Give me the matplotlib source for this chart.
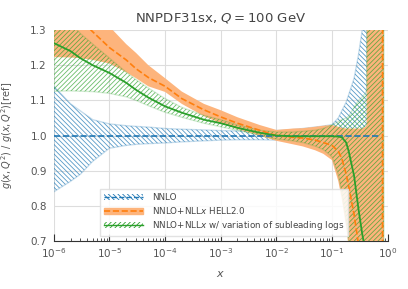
import numpy as np
import matplotlib
matplotlib.use("Agg")
import matplotlib.pyplot as plt
from matplotlib.patches import Patch
from matplotlib.lines import Line2D
from matplotlib.ticker import LogLocator, NullFormatter

# x grid (log)
x = [1e-6, 2e-6, 3e-6, 5e-6, 1e-5, 2e-5, 3e-5, 5e-5, 1e-4, 2e-4, 5e-4,
     1e-3, 2e-3, 5e-3, 1e-2, 2e-2, 3e-2, 5e-2, 0.07, 0.1, 0.13, 0.15,
     0.18, 0.2, 0.25, 0.3, 0.35, 0.4, 0.42, 0.43, 0.5, 0.6, 0.7, 0.805,
     0.815, 0.86]

# NNLO
nnlo_cv = [1.0] * len(x)
nnlo_up = [1.14, 1.09, 1.07, 1.045, 1.033, 1.028, 1.026, 1.024, 1.02, 1.018, 1.016,
           1.014, 1.013, 1.013, 1.014, 1.017, 1.02, 1.024, 1.027, 1.031, 1.05, 1.07,
           1.095, 1.116, 1.163, 1.23, 1.3, 1.4, 1.5, 1.6, 1.6, 1.6, 1.6, 1.6,
           1.6, 1.6]
nnlo_lo = [0.84, 0.87, 0.89, 0.927, 0.964, 0.972, 0.975, 0.977, 0.979, 0.982, 0.985,
           0.987, 0.988, 0.988, 0.987, 0.986, 0.985, 0.985, 0.985, 0.985, 0.985, 0.985,
           0.985, 0.99, 0.995, 1.0, 1.005, 1.01, 1.01, 1.0, 1.0, 1.0, 1.0, 1.0,
           1.0, 1.0]

# NNLO+NLLx HELL2.0
hell_cv = [1.40, 1.35, 1.33, 1.295, 1.25, 1.215, 1.19, 1.165, 1.14, 1.105, 1.073,
           1.053, 1.035, 1.015, 1.0, 0.995, 0.993, 0.987, 0.98, 0.972, 0.955, 0.935,
           0.89, 0.855, 0.775, 0.69, 0.6, 0.5, 0.45, 0.42, 0.3, 0.0, -0.5, -2.0,
           3.0, 2.0]
hell_up = [1.5, 1.42, 1.4, 1.37, 1.31, 1.26, 1.235, 1.2, 1.163, 1.125, 1.09,
           1.072, 1.052, 1.03, 1.016, 1.02, 1.021, 1.025, 1.028, 1.03, 1.025, 1.022,
           1.02, 1.02, 1.02, 1.02, 1.02, 1.025, 1.03, 2.0, 2.0, 2.0, 2.0, 2.0,
           2.0, 2.0]
hell_lo = [1.223, 1.222, 1.22, 1.215, 1.205, 1.18, 1.163, 1.14, 1.124, 1.09, 1.055,
           1.035, 1.018, 1.0, 0.985, 0.975, 0.969, 0.958, 0.948, 0.93, 0.87, 0.82,
           0.74, 0.68, 0.3, 0.0, -0.5, -1.0, -1.0, -1.0, -1.0, -1.0, -1.0, -1.0,
           -1.0, -1.0]

# NNLO+NLLx w/ variation of subleading logs
var_cv = [1.263, 1.24, 1.22, 1.2, 1.178, 1.15, 1.13, 1.108, 1.083, 1.065, 1.045,
          1.035, 1.022, 1.008, 1.0, 0.998, 0.998, 0.998, 0.998, 0.998, 0.997, 0.995,
          0.98, 0.955, 0.885, 0.79, 0.72, 0.67, 0.65, 0.64, 0.5, 0.3, 0.0, -1.0,
          -1.0, -1.0]
var_up = [1.35, 1.32, 1.29, 1.26, 1.22, 1.18, 1.159, 1.135, 1.105, 1.08, 1.057,
          1.045, 1.03, 1.015, 1.01, 1.01, 1.012, 1.015, 1.02, 1.03, 1.04, 1.045,
          1.05, 1.055, 1.08, 1.1, 1.11, 1.12, 1.13, 2.0, 2.0, 2.0, 2.0, 2.0,
          2.0, 2.0]
var_lo = [1.126, 1.127, 1.126, 1.125, 1.12, 1.11, 1.10, 1.085, 1.066, 1.052, 1.035,
          1.025, 1.015, 1.0, 0.99, 0.985, 0.98, 0.97, 0.96, 0.94, 0.89, 0.84,
          0.76, 0.7, 0.5, 0.0, -1.0, -1.0, -1.0, -1.0, -1.0, -1.0, -1.0, -1.0,
          -1.0, -1.0]

xticks = [1e-6, 1e-5, 1e-4, 1e-3, 1e-2, 1e-1, 1.0]
xticklabels = [r"$10^{-6}$", r"$10^{-5}$", r"$10^{-4}$", r"$10^{-3}$",
               r"$10^{-2}$", r"$10^{-1}$", r"$10^{0}$"]
labels = ["NNLO", r"NNLO+NLL$x$ HELL2.0",
          r"NNLO+NLL$x$ w/ variation of subleading logs"]

blue = "#1f77b4"
orange = "#ff7f0e"
green = "#2ca02c"
orange_fill = "#fdb47c"
hatch_b = "\\" * 7
hatch_g = "/" * 7

plt.rcParams["hatch.linewidth"] = 0.6
plt.rcParams["font.family"] = "DejaVu Sans"
plt.rcParams["mathtext.fontset"] = "dejavusans"

fig = plt.figure(figsize=(4.08, 2.89), dpi=100)
ax = fig.add_axes([0.132, 0.166, 0.818, 0.730])

x = np.array(x)
nb = 30  # NNLO band drawn up to x ~ 0.5 (rest is under the orange band)

# bands
ax.fill_between(x[:nb], nnlo_lo[:nb], nnlo_up[:nb], facecolor="none",
                edgecolor=(0.12, 0.47, 0.71, 0.75), hatch=hatch_b, linewidth=0, zorder=2)
ax.fill_between(x[:nb], nnlo_lo[:nb], nnlo_up[:nb], facecolor="none",
                edgecolor=(0.12, 0.47, 0.71, 0.25), linewidth=1.0, zorder=2)
ax.fill_between(x, hell_lo, hell_up, facecolor=orange_fill, edgecolor=orange_fill,
                linewidth=0, zorder=3)
ax.fill_between(x, var_lo, var_up, facecolor="none",
                edgecolor=(0.17, 0.63, 0.17, 0.7), hatch=hatch_g, linewidth=0, zorder=4)
ax.fill_between(x, var_lo, var_up, facecolor="none",
                edgecolor=(0.17, 0.63, 0.17, 0.2), linewidth=1.0, zorder=4)

# central lines
ax.plot(x[:33], nnlo_cv[:33], color=blue, ls="--", lw=1.2, zorder=6)
ax.plot(x, hell_cv, color=orange, ls="--", lw=1.2, zorder=5)
ax.plot(x, var_cv, color=green, ls="-", lw=1.3, zorder=7)

ax.set_xscale("log")
ax.set_xlim(1e-6, 1)
ax.set_ylim(0.7, 1.3)
ax.set_yticks([0.7, 0.8, 0.9, 1.0, 1.1, 1.2, 1.3])
ax.set_xticks(xticks)
ax.set_xticklabels(xticklabels)
ax.xaxis.set_minor_locator(LogLocator(base=10, subs=np.arange(2, 10), numticks=20))
ax.xaxis.set_minor_formatter(NullFormatter())

ax.grid(True, which="major", color="#dddddd", lw=0.8, zorder=0)
ax.set_axisbelow(True)
for s in ["top", "right", "left"]:
    ax.spines[s].set_visible(False)
ax.spines["bottom"].set_color("#333333")
ax.spines["bottom"].set_linewidth(0.8)

ax.tick_params(axis="x", which="major", direction="in", length=5, width=0.8,
               color="#333333", labelsize=7.5, labelcolor="#555555", pad=4)
ax.tick_params(axis="x", which="minor", direction="in", length=2.5, width=0.6,
               color="#333333")
ax.tick_params(axis="y", length=0, labelsize=7.5, labelcolor="#555555", pad=5)

ax.set_xlabel(r"$x$", fontsize=8, color="#555555", labelpad=6)
ax.set_ylabel(r"$g(x,Q^2)$ / $g(x,Q^2)$[ref]", fontsize=7, color="#555555")
ax.yaxis.set_label_coords(-0.115, 0.5)
ax.set_title(r"NNPDF31sx, $Q = 100$ GeV", fontsize=9.5, color="#444444", pad=6)

handles = [
    (Patch(facecolor="none", edgecolor=blue, hatch=hatch_b, lw=0),
     Line2D([], [], color=blue, ls="--", lw=1.0)),
    (Patch(facecolor=orange_fill, edgecolor=orange_fill),
     Line2D([], [], color=orange, ls="--", lw=1.2)),
    (Patch(facecolor="none", edgecolor=green, hatch=hatch_g, lw=0),
     Line2D([], [], color=green, ls="-", lw=1.0)),
]
leg = ax.legend(handles, labels, loc="lower center", bbox_to_anchor=(0.51, 0.005),
                fontsize=6.3, frameon=True, framealpha=0.85, edgecolor="#dddddd",
                fancybox=False, handlelength=4.5, labelspacing=0.35,
                borderpad=0.4, handletextpad=1.0)
leg.set_zorder(10)
for t in leg.get_texts():
    t.set_color("#444444")

fig.savefig("out.png", dpi=100)
